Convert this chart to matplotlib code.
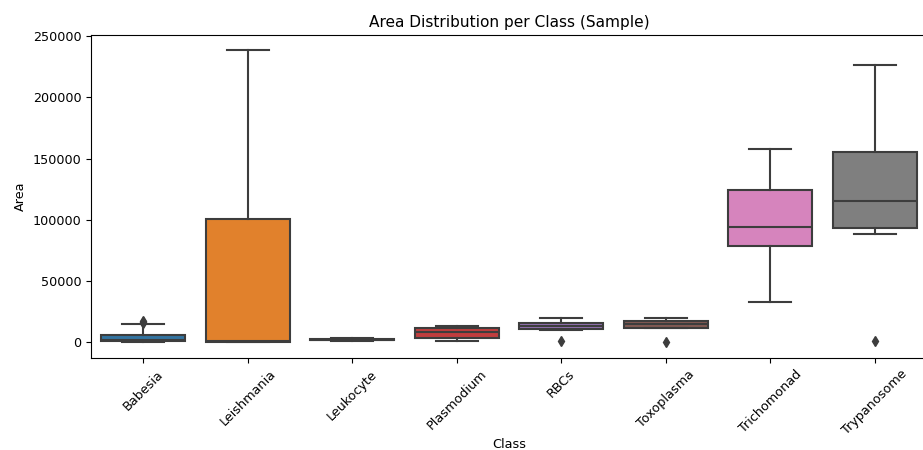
import matplotlib
matplotlib.use("Agg")
import matplotlib.pyplot as plt
import seaborn as sns

classes = ['Babesia', 'Leishmania', 'Leukocyte', 'Plasmodium', 'RBCs',
           'Toxoplasma', 'Trichomonad', 'Trypanosome']
# five-number summaries
whislo = [300, 0, 800, 1000, 9800, 11200, 32400, 88500]
q1 = [800, 300, 1600, 3000, 10400, 11700, 78400, 93400]
med = [1500, 600, 2000, 7900, 12800, 14500, 93700, 115200]
q3 = [6000, 101000, 2500, 11700, 15300, 16900, 124200, 155000]
whishi = [14500, 239000, 3300, 12800, 19400, 19400, 157700, 226600]
fliers = [[15500, 16500, 17500], [], [], [], [800], [200], [], [1000]]

stats = []
for i, c in enumerate(classes):
    stats.append(dict(label=c, whislo=whislo[i], q1=q1[i], med=med[i],
                      q3=q3[i], whishi=whishi[i], fliers=fliers[i]))

colors = [sns.desaturate(c, 0.75) for c in sns.color_palette('tab10', 8)]
gray = '#3d3d3d'
lw = 1.5

plt.rcParams['font.size'] = 9.2
fig = plt.figure(figsize=(9.23, 4.5), dpi=100)
ax = fig.add_axes([0.0986, 0.2044, 0.9057, 0.7178])

bp = ax.bxp(stats, positions=range(len(classes)), widths=0.8, patch_artist=True,
            capwidths=0.4,
            boxprops=dict(edgecolor=gray, linewidth=lw),
            medianprops=dict(color=gray, linewidth=lw),
            whiskerprops=dict(color=gray, linewidth=lw),
            capprops=dict(color=gray, linewidth=lw),
            flierprops=dict(marker='d', markerfacecolor=gray, markeredgecolor=gray,
                            markersize=5, linestyle='none'))
for patch, col in zip(bp['boxes'], colors):
    patch.set_facecolor(col)

ax.set_xlim(-0.5, len(classes) - 0.5)
ax.set_ylim(-13000, 251000)
ax.set_xticks(range(len(classes)))
ax.set_xticklabels(classes, rotation=45)
ax.set_xlabel('Class', labelpad=0.5)
ax.set_ylabel('Area')
ax.set_title('Area Distribution per Class (Sample)')

fig.savefig('out.png', dpi=100)
